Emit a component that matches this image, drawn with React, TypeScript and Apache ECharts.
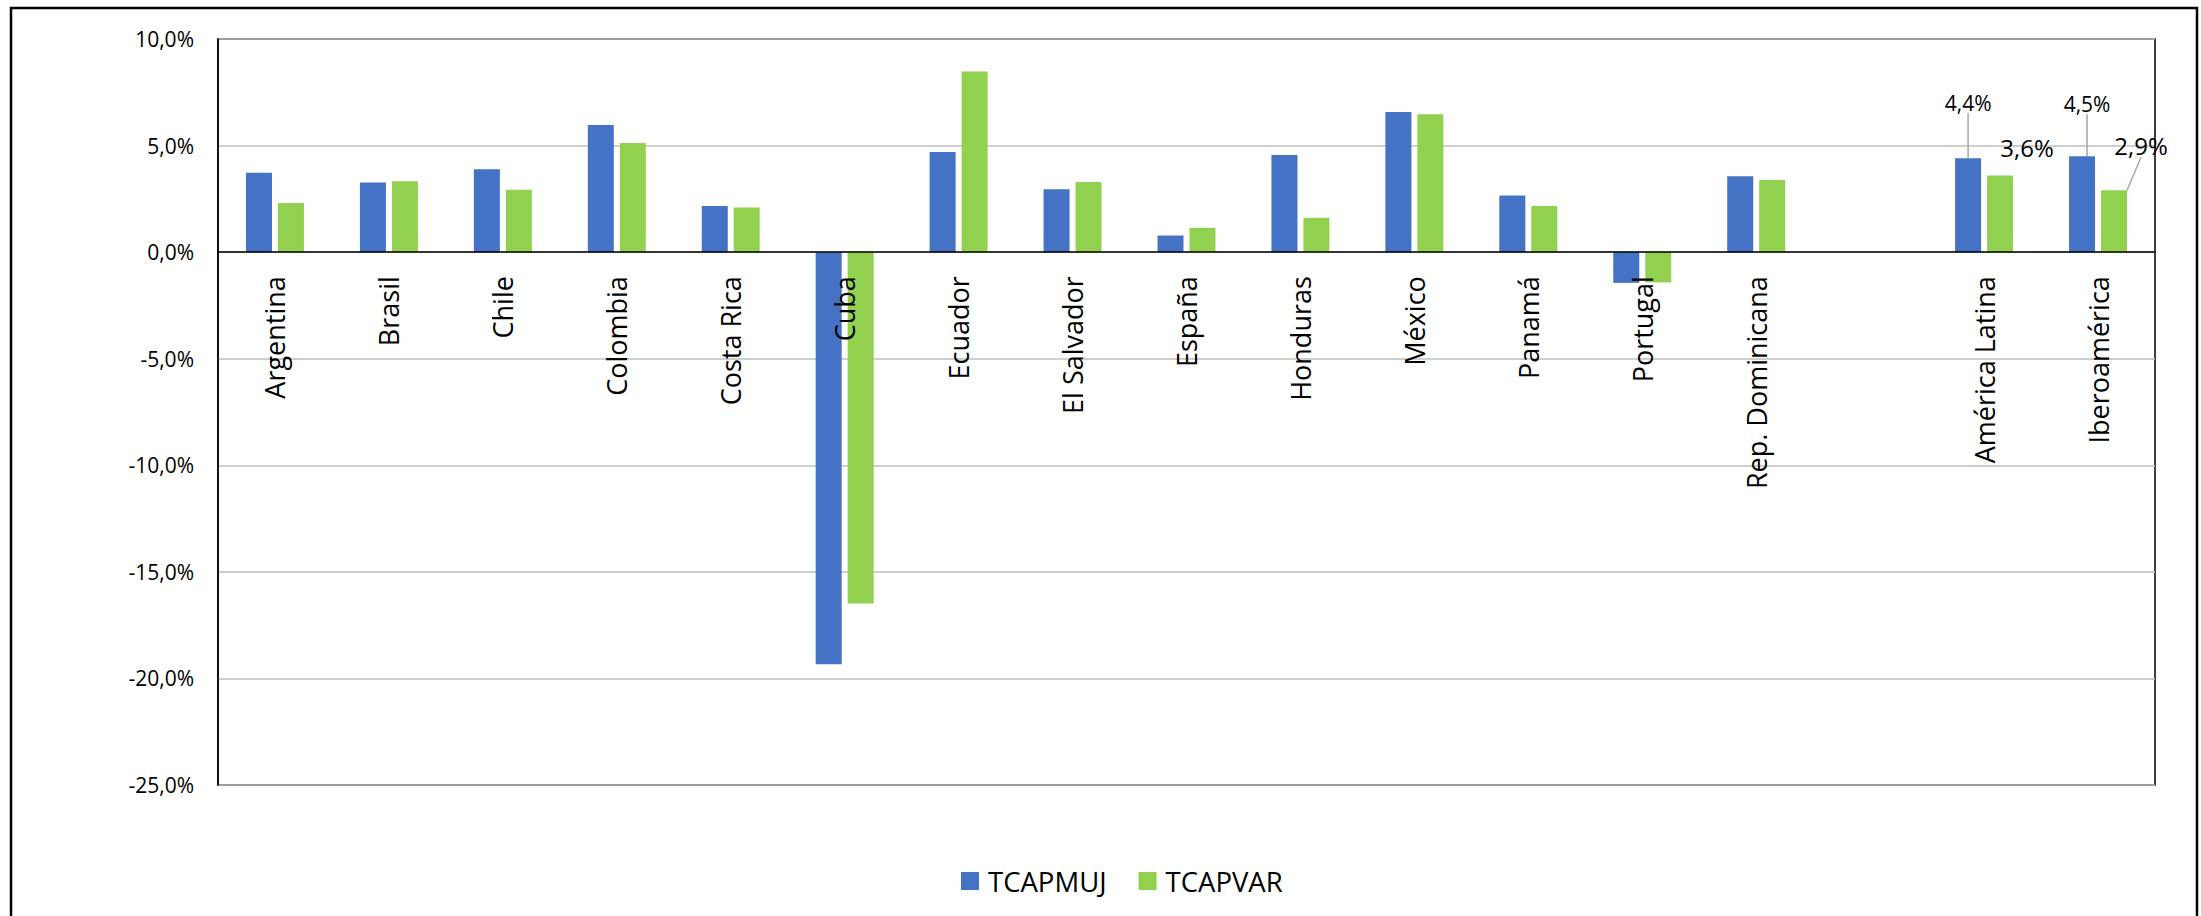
import React, { useEffect, useRef } from "react";
import * as echarts from "echarts";

const categories = [
  "Argentina", "Brasil", "Chile", "Colombia", "Costa Rica", "Cuba", "Ecuador",
  "El Salvador", "España", "Honduras", "México", "Panamá", "Portugal",
  "Rep. Dominicana", "", "América Latina", "Iberoamérica",
];
const tcapmuj = [3.72, 3.27, 3.89, 5.96, 2.16, -19.34, 4.7, 2.95, 0.78, 4.56, 6.57, 2.66, -1.44, 3.56, null, 4.4, 4.5];
const tcapvar = [2.3, 3.33, 2.93, 5.12, 2.1, -16.49, 8.48, 3.29, 1.14, 1.61, 6.47, 2.16, -1.42, 3.38, null, 3.6, 2.9];
const labeledIndices = [15, 16];
const yTicks = { min: -25, max: 10, step: 5 };

const FONT = "'Open Sans', 'Noto Sans', sans-serif";
const fmt = (v: number) => v.toFixed(1).replace(".", ",") + "%";

const mujShift: Record<number, [number, number]> = { 15: [0, -40], 16: [5, -37] };
const varShift: Record<number, [number, number]> = { 15: [27, -11], 16: [27, -28] };
const varNoLine: number[] = [15];

const GRID = { left: 218, top: 39, width: 1937, height: 746 };
// distance from the grid bottom up to the zero line, from the value scale
const zeroOffset = (GRID.height * (0 - yTicks.min)) / (yTicks.max - yTicks.min);

function buildData(values: (number | null)[], fontSize: number, noLine: number[]) {
  return values.map((v, i) => {
    if (v === null) return "-";
    if (labeledIndices.includes(i)) {
      return {
        value: v,
        label: {
          show: true,
          position: "top",
          formatter: (p: any) => fmt(p.value),
          fontSize,
          fontFamily: FONT,
          color: "#000",
        },
        labelLine: { show: !noLine.includes(i) },
      };
    }
    return v;
  });
}

export default function App() {
  const ref = useRef<HTMLDivElement>(null);
  useEffect(() => {
    if (!ref.current) return;
    const chart = echarts.init(ref.current, null, { renderer: "svg" });
    chart.setOption({
      animation: false,
      backgroundColor: "#fff",
      textStyle: { fontFamily: FONT },
      graphic: [
        {
          type: "rect",
          shape: { x: 11, y: 8, width: 2186, height: 1000 },
          style: { fill: "none", stroke: "#000", lineWidth: 2.5 },
          silent: true,
        },
      ],
      grid: {
        show: true,
        ...GRID,
        borderColor: "#000",
        borderWidth: 1.5,
        containLabel: false,
        outerBoundsMode: "none",
      },
      legend: {
        left: 956,
        top: 862,
        itemWidth: 18,
        itemHeight: 18,
        itemGap: 32,
        icon: "rect",
        textStyle: { fontSize: 27.5, fontFamily: FONT, color: "#000", padding: [0, 0, 0, 4] },
        data: ["TCAPMUJ", "TCAPVAR"],
      },
      xAxis: {
        type: "category",
        data: categories,
        position: "bottom",
        offset: -zeroOffset,
        z: 10,
        axisTick: { show: false },
        axisLine: { onZero: false, lineStyle: { color: "#000", width: 1.5 } },
        axisLabel: {
          rotate: 90,
          interval: 0,
          margin: 24,
          fontSize: 27,
          fontFamily: FONT,
          color: "#000",
        },
      },
      yAxis: {
        type: "value",
        min: yTicks.min,
        max: yTicks.max,
        interval: yTicks.step,
        axisLine: { show: true, lineStyle: { color: "#000", width: 1.5 } },
        axisTick: { show: false },
        splitLine: { lineStyle: { color: "#BFBFBF", width: 1.5 } },
        axisLabel: {
          formatter: (v: number) => fmt(v),
          fontSize: 21,
          fontFamily: FONT,
          color: "#000",
          margin: 24,
        },
      },
      series: [
        {
          name: "TCAPMUJ",
          type: "bar",
          barWidth: 26,
          barGap: "23%",
          itemStyle: { color: "#4472C4" },
          data: buildData(tcapmuj, 21, []),
          labelLine: { show: true, lineStyle: { color: "#A6A6A6", width: 1.5 } },
          labelLayout: (p: any) => {
            const s = mujShift[p.dataIndex];
            return s ? { dx: s[0], dy: s[1] } : {};
          },
        },
        {
          name: "TCAPVAR",
          type: "bar",
          barWidth: 26,
          barGap: "23%",
          itemStyle: { color: "#92D050" },
          data: buildData(tcapvar, 24, varNoLine),
          labelLine: { show: true, lineStyle: { color: "#A6A6A6", width: 1.5 } },
          labelLayout: (p: any) => {
            const s = varShift[p.dataIndex];
            return s ? { dx: s[0], dy: s[1] } : {};
          },
        },
      ],
    });
    return () => chart.dispose();
  }, []);
  return (
    <div
      ref={ref}
      style={{ position: "fixed", left: 0, top: 0, width: 2201, height: 916, background: "#fff" }}
    />
  );
}
